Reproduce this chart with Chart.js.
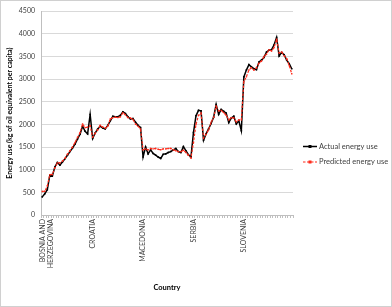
<!DOCTYPE html>
<html>
<head>
<meta charset="utf-8">
<script src="https://cdn.jsdelivr.net/npm/chart.js@4.4.0/dist/chart.umd.min.js"></script>
<style>
    html, body { margin: 0; padding: 0; background: #fff; }
    #wrap { width: 392px; height: 307px; box-sizing: border-box; border: 1px solid #d0d0d0; }
    canvas { display: block; }
</style>
</head>
<body>
<div id="wrap"><canvas id="energy-chart" width="390" height="305"></canvas></div>
<script>
// one group of yearly values per country
const countries = [["BOSNIA AND", "HERZEGOVINA"], "CROATIA", "MACEDONIA", "SERBIA", "SLOVENIA"];
const yearsPerCountry = 20;

const actualUse = [
    400, 470, 560, 880, 860, 1060, 1160, 1100, 1170, 1240, 1320, 1400, 1480, 1565, 1680, 1785, 1960, 1850, 1790, 2220,
    1690, 1810, 1900, 1960, 1920, 1900, 1980, 2080, 2180, 2170, 2170, 2200, 2280, 2240, 2170, 2120, 2130, 2050, 1980, 1930,
    1280, 1500, 1350, 1440, 1360, 1320, 1280, 1250, 1340, 1350, 1380, 1400, 1440, 1470, 1400, 1380, 1510, 1420, 1330, 1280,
    1820, 2190, 2310, 2300, 1650, 1790, 1900, 2020, 2160, 2440, 2220, 2330, 2290, 2250, 2040, 2140, 2180, 2010, 2080, 1860,
    3050, 3200, 3320, 3270, 3230, 3210, 3380, 3420, 3480, 3600, 3640, 3650, 3760, 3920, 3510, 3590, 3540, 3420, 3340, 3230
];

const predictedUse = [
    520, 525, 640, 890, 895, 1040, 1150, 1150, 1190, 1250, 1340, 1420, 1500, 1600, 1710, 1820, 2010, 1930, 1940, 1970,
    1720, 1800, 1880, 1980, 1940, 1920, 1960, 2120, 2150, 2160, 2150, 2170, 2260, 2210, 2150, 2140, 2110, 2010, 1960, 1900,
    1440, 1460, 1440, 1470, 1460, 1470, 1450, 1440, 1460, 1460, 1470, 1470, 1440, 1420, 1400, 1400, 1430, 1380, 1320, 1260,
    1600, 2000, 2200, 2250, 1700, 1780, 1880, 2050, 2150, 2400, 2300, 2310, 2260, 2200, 2100, 2150, 2140, 2060, 2100, 2100,
    2950, 3050, 3200, 3250, 3200, 3250, 3350, 3400, 3500, 3550, 3650, 3620, 3700, 3880, 3580, 3600, 3520, 3450, 3300, 3120
];

const yTicks = [0, 500, 1000, 1500, 2000, 2500, 3000, 3500, 4000, 4500];

// country name on the first year of each group, blank elsewhere
const labels = [];
countries.forEach(c => {
    for (let i = 0; i < yearsPerCountry; i++) labels.push(i === 0 ? c : "");
});

const textColor = '#404040';
const fontFamily = 'Lato, "Open Sans", sans-serif';

const legendPlugin = {
    id: 'sideLegend',
    afterDraw(chart) {
        const ctx = chart.ctx;
        const items = [chart.data.datasets[0], chart.data.datasets[1]];
        const rows = [145.5, 161];
        ctx.save();
        items.forEach((ds, i) => {
            const y = rows[i];
            ctx.strokeStyle = ds.borderColor;
            ctx.lineWidth = ds.borderWidth;
            ctx.setLineDash(ds.borderDash || []);
            ctx.beginPath();
            ctx.moveTo(302, y);
            ctx.lineTo(316, y);
            ctx.stroke();
            ctx.setLineDash([]);
            ctx.fillStyle = ds.pointBackgroundColor;
            ctx.fillRect(307.5, y - 1.5, 3, 3);
            ctx.fillStyle = textColor;
            ctx.font = '7.5px ' + fontFamily;
            ctx.textBaseline = 'middle';
            ctx.fillText(ds.label, 318, y);
        });
        ctx.restore();
    }
};

const ctx = document.getElementById('energy-chart');

const chart = new Chart(ctx, {
    type: 'line',
    data: {
        labels: labels,
        datasets: [{
            label: 'Actual energy use',
            data: actualUse,
            borderColor: '#000000',
            backgroundColor: '#000000',
            pointBackgroundColor: '#000000',
            pointBorderColor: '#000000',
            borderWidth: 1.5,
            pointStyle: 'rect',
            pointRadius: 1.1,
            pointBorderWidth: 0,
            tension: 0,
            order: 1
        }, {
            label: 'Predicted energy use',
            data: predictedUse,
            borderColor: '#ff2a1a',
            backgroundColor: '#ff2a1a',
            pointBackgroundColor: '#ff2a1a',
            pointBorderColor: '#ff2a1a',
            borderWidth: 1.2,
            borderDash: [2.5, 1.5],
            pointStyle: 'rect',
            pointRadius: 1,
            pointBorderWidth: 0,
            tension: 0,
            order: 0
        }]
    },
    options: {
        responsive: false,
        animation: false,
        layout: {
            padding: {top: 8, right: 98, left: 0, bottom: 0}
        },
        plugins: {
            legend: {display: false},
            tooltip: {enabled: false}
        },
        scales: {
            x: {
                offset: true,
                afterFit: s => { s.height = 91; },
                grid: {
                    offset: true,
                    drawOnChartArea: false,
                    drawTicks: true,
                    tickLength: 3,
                    color: '#bfbfbf'
                },
                border: {display: true, color: '#bfbfbf'},
                ticks: {
                    autoSkip: false,
                    minRotation: 90,
                    maxRotation: 90,
                    padding: 1,
                    color: textColor,
                    font: {family: fontFamily, size: 7}
                },
                title: {
                    display: true,
                    text: 'Country',
                    color: '#000000',
                    padding: {top: 0, bottom: 14},
                    font: {family: fontFamily, size: 7.5, weight: 'bold'}
                }
            },
            y: {
                min: 0,
                max: 4500,
                afterFit: s => { s.width = 40; },
                afterBuildTicks: s => { s.ticks = yTicks.map(v => ({value: v})); },
                grid: {
                    color: '#d9d9d9',
                    drawTicks: false
                },
                border: {display: true, color: '#bfbfbf'},
                ticks: {
                    padding: 6,
                    color: textColor,
                    font: {family: fontFamily, size: 7},
                    callback: v => String(v)
                },
                title: {
                    display: true,
                    text: 'Energy use (kg of oil equivalent per capita)',
                    color: '#000000',
                    padding: {top: 5, bottom: 0},
                    font: {family: fontFamily, size: 7, weight: 'bold'}
                }
            }
        }
    },
    plugins: [legendPlugin]
});
</script>
</body>
</html>
